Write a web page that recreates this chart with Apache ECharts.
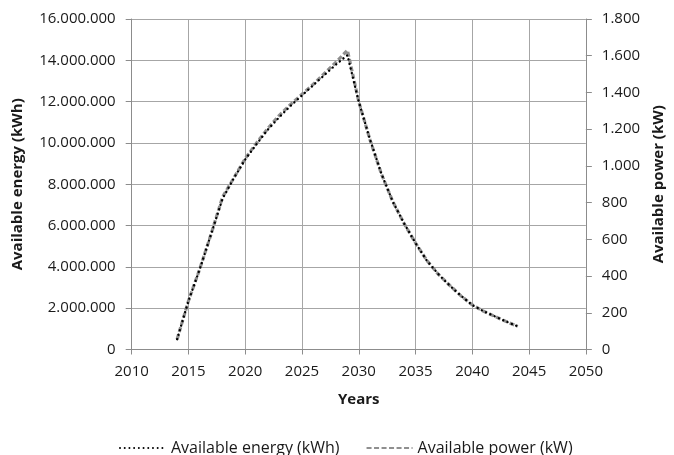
<!DOCTYPE html>
<html>
<head>
<meta charset="utf-8">
<script src="https://cdn.jsdelivr.net/npm/echarts@6/dist/echarts.min.js"></script>
<style>
html,body{margin:0;padding:0;background:#fff;overflow:hidden;width:674px;height:455px;}
#chart{width:674px;height:455px;}
</style>
</head>
<body>
<div id="chart"></div>
<script>
var years = [2014,2015,2016,2017,2018,2019,2020,2021,2022,2023,2024,2025,2026,2027,2028,2029,2030,2031,2032,2033,2034,2035,2036,2037,2038,2039,2040,2041,2042,2043,2044];
var energyKWh = [500000,2350000,3900000,5600000,7300000,8300000,9200000,9950000,10650000,11250000,11800000,12300000,12800000,13300000,13800000,14250000,12000000,10150000,8500000,7150000,6100000,5150000,4300000,3650000,3100000,2600000,2150000,1850000,1600000,1350000,1120000];
var powerKW = [56,265,440,630,830,935,1040,1125,1205,1275,1335,1390,1445,1505,1565,1630,1350,1140,955,805,685,580,485,410,350,292,243,208,180,152,126];
var xTicks = {min:2010, max:2050, interval:5};
var leftTicks = {min:0, max:16000000, interval:2000000};
var rightTicks = {min:0, max:1800, interval:200};

function fmt(v){
  return String(Math.round(v)).replace(/\B(?=(\d{3})+(?!\d))/g, '.');
}
var FONT = 'Open Sans';
var TXT = '#1a1a1a';
var chart = echarts.init(document.getElementById('chart'), null, {width:674, height:455});
chart.setOption({
  animation:false,
  backgroundColor:'#fff',
  textStyle:{fontFamily:FONT},
  grid:{left:131.7, right:81, top:19, bottom:105.5, containLabel:false},
  legend:{
    data:['Available energy (kWh)','Available power (kW)'],
    left:114, top:435, itemWidth:46, itemHeight:10, itemGap:26,
    itemStyle:{opacity:0, borderWidth:0},
    textStyle:{fontFamily:FONT, fontSize:16, color:TXT}
  },
  xAxis:{
    type:'value', min:xTicks.min, max:xTicks.max, interval:xTicks.interval,
    name:'Years', nameLocation:'middle', nameGap:43,
    nameTextStyle:{fontFamily:FONT, fontSize:15, fontWeight:'bold', color:TXT},
    axisLine:{lineStyle:{color:'#8c8c8c', width:1}},
    axisTick:{show:true, length:5, lineStyle:{color:'#8c8c8c'}},
    axisLabel:{margin:15, fontSize:15, color:TXT, fontFamily:FONT, formatter:function(v){return String(v);}},
    splitLine:{show:true, lineStyle:{color:'#a6a6a6', width:1}}
  },
  yAxis:[{
    type:'value', position:'left', min:leftTicks.min, max:leftTicks.max, interval:leftTicks.interval,
    name:'Available energy (kWh)', nameLocation:'middle', nameGap:106, nameRotate:90,
    nameTextStyle:{fontFamily:FONT, fontSize:15, fontWeight:'bold', color:TXT},
    axisLine:{show:true, lineStyle:{color:'#8c8c8c', width:1}},
    axisTick:{show:true, length:6, lineStyle:{color:'#8c8c8c'}},
    axisLabel:{margin:16, fontSize:15, color:TXT, fontFamily:FONT, formatter:fmt},
    splitLine:{show:true, lineStyle:{color:'#a6a6a6', width:1}}
  },{
    type:'value', position:'right', min:rightTicks.min, max:rightTicks.max, interval:rightTicks.interval,
    name:'Available power (kW)', nameLocation:'middle', nameGap:62, nameRotate:90,
    nameTextStyle:{fontFamily:FONT, fontSize:15, fontWeight:'bold', color:TXT},
    axisLine:{show:true, lineStyle:{color:'#8c8c8c', width:1}},
    axisTick:{show:true, length:6, lineStyle:{color:'#8c8c8c'}},
    axisLabel:{margin:16, fontSize:15, color:TXT, fontFamily:FONT, formatter:fmt},
    splitLine:{show:false}
  }],
  series:[{
    name:'Available energy (kWh)', type:'line', yAxisIndex:0, z:3,
    data: years.map(function(y,i){return [y, energyKWh[i]];}),
    symbol:'none', smooth:false,
    lineStyle:{color:'#000', width:2.4, type:[0.01,4.7], cap:'round'},
    itemStyle:{color:'#000'}
  },{
    name:'Available power (kW)', type:'line', yAxisIndex:1, z:2,
    data: years.map(function(y,i){return [y, powerKW[i]];}),
    symbol:'none', smooth:false,
    lineStyle:{color:'#8f8f8f', width:3.2, type:[5,2.5]},
    itemStyle:{color:'#8f8f8f'}
  }]
});
</script>
</body>
</html>
